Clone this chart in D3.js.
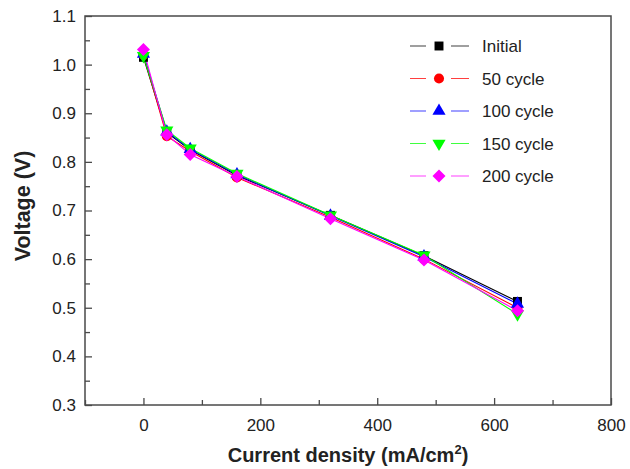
<!DOCTYPE html>
<html>
<head>
<meta charset="utf-8">
<script src="https://cdn.jsdelivr.net/npm/d3@7"></script>
<style>
  body { margin: 0; background: #fff; }
  svg text { font-family: "Liberation Sans", Arial, sans-serif; fill: #222; }
</style>
</head>
<body>
<svg id="chart" width="630" height="469"></svg>
<script>
// current density (mA/cm2)
let currents = [0, 40, 80, 160, 320, 480, 640];

let seriesNames = ['Initial', '50 cycle', '100 cycle', '150 cycle', '200 cycle'];
let seriesColors = ['#000000', '#ff0000', '#0000ff', '#00ff00', '#ff00ff'];
let seriesSymbols = ['square', 'circle', 'triangle', 'triangleDown', 'diamond'];

let initial = [1.015, 0.860, 0.825, 0.772, 0.690, 0.607, 0.513];
let cycle50 = [1.020, 0.853, 0.822, 0.768, 0.686, 0.600, 0.500];
let cycle100 = [1.022, 0.862, 0.826, 0.774, 0.689, 0.605, 0.508];
let cycle150 = [1.018, 0.865, 0.828, 0.776, 0.690, 0.608, 0.487];
let cycle200 = [1.031, 0.856, 0.815, 0.770, 0.683, 0.598, 0.494];

let xTicks = [0, 200, 400, 600, 800];
let yTicks = [0.3, 0.4, 0.5, 0.6, 0.7, 0.8, 0.9, 1.0, 1.1];

let values = [initial, cycle50, cycle100, cycle150, cycle200];

let margin = {left: 85, right: 19, top: 16, bottom: 64};
let width = 630, height = 469;

let svg = d3.select('#chart');

let x = d3.scaleLinear().domain([-100, 800]).range([margin.left, width - margin.right]);
let y = d3.scaleLinear().domain([0.3, 1.1]).range([height - margin.bottom, margin.top]);

let axisColor = '#4a4a4a';

// frame
svg.append('rect')
    .attr('x', x(-100)).attr('y', y(1.1))
    .attr('width', x(800) - x(-100)).attr('height', y(0.3) - y(1.1))
    .attr('fill', 'none').attr('stroke', axisColor).attr('stroke-width', 1.5);

// x axis, ticks inward
let xAxis = svg.append('g')
    .attr('transform', `translate(0,${y(0.3)})`)
    .call(d3.axisBottom(x).tickValues(xTicks).tickSizeInner(-7).tickSizeOuter(0).tickPadding(14));
xAxis.append('g')
    .call(d3.axisBottom(x).tickValues([-100, 100, 300, 500, 700]).tickSizeInner(-5).tickSizeOuter(0).tickFormat(''));

let yAxis = svg.append('g')
    .attr('transform', `translate(${x(-100)},0)`)
    .call(d3.axisLeft(y).tickValues(yTicks).tickSizeInner(-7).tickSizeOuter(0).tickPadding(9).tickFormat(d3.format('.1f')));
yAxis.append('g')
    .call(d3.axisLeft(y).tickValues(d3.range(0.35, 1.1, 0.1)).tickSizeInner(-5).tickSizeOuter(0).tickFormat(''));

svg.selectAll('.domain').remove();
svg.selectAll('.tick line').attr('stroke', axisColor).attr('stroke-width', 1.3);
svg.selectAll('.tick text').attr('font-size', 17).attr('fill', '#222')
    .attr('font-family', '"Liberation Sans", Arial, sans-serif');

// axis titles
svg.append('text')
    .attr('x', (x(-100) + x(800)) / 2).attr('y', 462)
    .attr('text-anchor', 'middle')
    .attr('font-size', 20).attr('font-weight', 'bold').attr('fill', '#000')
    .html('Current density (mA/cm<tspan dy="-8" font-size="13">2</tspan><tspan dy="8">)</tspan>');

svg.append('text')
    .attr('transform', 'translate(30,206) rotate(-90)')
    .attr('text-anchor', 'middle')
    .attr('font-size', 21.5).attr('font-weight', 'bold').attr('fill', '#000')
    .text('Voltage (V)');

let symbolType = {
    square: d3.symbolSquare,
    circle: d3.symbolCircle,
    triangle: d3.symbolTriangle,
    triangleDown: d3.symbolTriangle,
    diamond: d3.symbolSquare
};
let symbolSize = {square: 80, circle: 80, triangle: 75, triangleDown: 75, diamond: 85};
let symbolRotate = {square: 0, circle: 0, triangle: 0, triangleDown: 180, diamond: 45};

function marker(sel, i) {
    let name = seriesSymbols[i];
    sel.attr('d', d3.symbol().type(symbolType[name]).size(symbolSize[name]))
        .attr('fill', seriesColors[i]);
    return sel;
}

let line = d3.line().x((d, i) => x(currents[i])).y(d => y(d));

values.forEach((vals, i) => {
    svg.append('path')
        .datum(vals)
        .attr('d', line)
        .attr('fill', 'none')
        .attr('stroke', seriesColors[i])
        .attr('stroke-width', 1.1);
});

values.forEach((vals, i) => {
    let rot = ` rotate(${symbolRotate[seriesSymbols[i]]})`;
    svg.append('g').selectAll('path')
        .data(vals)
        .enter().append('path')
        .attr('transform', (d, j) => `translate(${x(currents[j])},${y(d)})${rot}`)
        .call(marker, i);
});

// legend
let legend = svg.append('g');
seriesNames.forEach((name, i) => {
    let ly = 46 + i * 32.5;
    let row = legend.append('g').attr('transform', `translate(0,${ly})`);
    row.append('line').attr('x1', 410).attr('x2', 426).attr('y1', 0).attr('y2', 0)
        .attr('stroke', seriesColors[i]).attr('stroke-width', 1).attr('opacity', 0.75);
    row.append('line').attr('x1', 451).attr('x2', 469).attr('y1', 0).attr('y2', 0)
        .attr('stroke', seriesColors[i]).attr('stroke-width', 1).attr('opacity', 0.75);
    let rot = ` rotate(${symbolRotate[seriesSymbols[i]]})`;
    row.append('path').attr('transform', `translate(439,0)${rot}`).call(marker, i);
    row.append('text').attr('x', 482).attr('y', 6)
        .attr('font-size', 17).attr('fill', '#222').text(name);
});
</script>
</body>
</html>
